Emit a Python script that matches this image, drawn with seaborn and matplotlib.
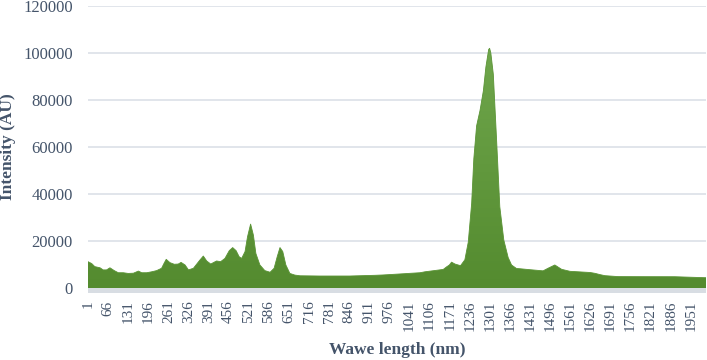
import numpy as np
import pandas as pd
import matplotlib
matplotlib.use("Agg")
import matplotlib.pyplot as plt
import matplotlib.colors as mcolors
from matplotlib.patches import Rectangle
import seaborn as sns

# spectrum (index along the axis, intensity in AU)
wavelength = [1, 13, 23, 40, 50, 61, 72, 86, 99, 115, 131, 148, 164, 175, 191, 207, 223,
              239, 247, 254, 266, 280, 293, 302, 315, 326, 342, 363, 374, 385, 398, 408,
              417, 430, 444, 458, 469, 480, 490, 498, 509, 517, 527, 536, 544, 557, 573,
              590, 603, 613, 622, 631, 641, 654, 670, 687, 750, 848, 929, 956, 1026, 1042,
              1075, 1091, 1150, 1161, 1170, 1177, 1188, 1206, 1220, 1231, 1242, 1249, 1258,
              1269, 1280, 1288, 1297, 1300, 1304, 1312, 1323, 1333, 1346, 1360, 1371, 1387,
              1398, 1430, 1473, 1489, 1511, 1533, 1560, 1625, 1641, 1657, 1673, 1716, 1802,
              1899, 1996, 2000]
intensity = [11200, 10400, 9100, 8600, 7700, 7700, 8600, 7400, 6500, 6500, 6200, 6300, 7200,
             6500, 6500, 6900, 7400, 8400, 10500, 12200, 10800, 10100, 10200, 10900, 9800,
             7700, 8400, 11900, 13600, 11500, 10200, 10900, 11500, 11200, 12600, 15900, 17200,
             15900, 13300, 12600, 15500, 21800, 27200, 22500, 14700, 9800, 7400, 6700, 8400,
             13300, 17200, 15500, 9800, 6200, 5500, 5200, 5100, 5100, 5400, 5550, 6100, 6240,
             6500, 6900, 7900, 9000, 9800, 11000, 10200, 9500, 12000, 19500, 36000, 55000,
             69000, 75500, 84000, 94000, 101500, 102000, 100000, 91000, 62000, 34600, 20400,
             13000, 9800, 8300, 8200, 7800, 7300, 8400, 9800, 7950, 7100, 6600, 6240, 5700,
             5250, 4850, 4820, 4800, 4390, 4380]

tick_labels = list(range(1, 1952, 65))
y_ticks = list(range(0, 120001, 20000))

df = pd.DataFrame({"wavelength": wavelength, "intensity": intensity})

sns.set_theme(style="whitegrid")
plt.rcParams["font.family"] = ["Liberation Serif", "DejaVu Serif"]

text_col = "#44546a"
grid_col = "#d9dee5"

fig = plt.figure(figsize=(7.07, 3.6), dpi=100)
ax = fig.add_axes([88 / 707, 72 / 360, 618 / 707, 282 / 360])

# area with vertical gradient, clipped to the filled shape
area = ax.fill_between(df["wavelength"], df["intensity"], 0, color="none", lw=0)
cmap = mcolors.LinearSegmentedColormap.from_list("grn", ["#548b2f", "#6fa64c"])
grad = np.linspace(0, 1, 256).reshape(-1, 1)
img = ax.imshow(grad, cmap=cmap, aspect="auto", origin="lower",
                extent=[1, 2000, 0, max(intensity)], zorder=2)
img.set_clip_path(area.get_paths()[0], transform=ax.transData)
sns.lineplot(data=df, x="wavelength", y="intensity", ax=ax, color="#5a9435", lw=0.6, zorder=3)

ax.set_xlim(1, 2000)
ax.set_ylim(0, 120000)
for s in ["top", "right", "left", "bottom"]:
    ax.spines[s].set_visible(False)
ax.set_xticks(tick_labels)
ax.set_xticklabels([str(t) for t in tick_labels], fontsize=11, color=text_col)
ax.set_yticks(y_ticks)
ax.set_yticklabels([str(t) for t in y_ticks], fontsize=12, color=text_col)
ax.tick_params(axis="x", length=0, pad=9, labelrotation=90)
ax.tick_params(axis="y", length=0, pad=11)
ax.grid(axis="y", color=grid_col, lw=1.1)
ax.grid(axis="x", visible=False)
ax.set_axisbelow(True)
ax.set_xlabel("")
ax.set_ylabel("")

# light grey axis band just under zero
fig.patches.append(Rectangle((88 / 707, 1 - 293 / 360), 618 / 707, 5 / 360,
                             transform=fig.transFigure, color="#d8dde3", lw=0))

fig.text(8 / 707, 1 - 147 / 360, "Intensity (AU)", rotation=90, ha="center", va="center",
         fontsize=12.5, fontweight="bold", color=text_col)
fig.text(397 / 707, 1 - 350 / 360, "Wawe length (nm)", ha="center", va="center",
         fontsize=12.5, fontweight="bold", color=text_col)

fig.savefig("out.png", dpi=100)
